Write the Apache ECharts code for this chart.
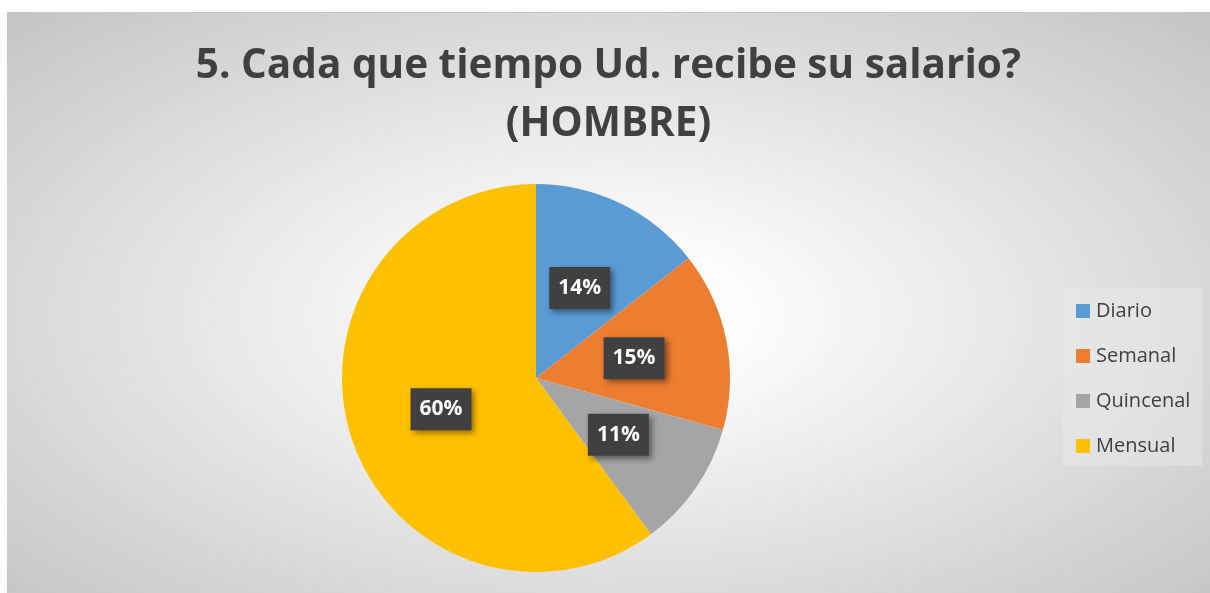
<!DOCTYPE html>
<html>
<head>
<meta charset="utf-8">
<script src="https://cdn.jsdelivr.net/npm/echarts@6/dist/echarts.min.js"></script>
<style>
    html, body { margin:0; padding:0; background:#ffffff; }
    #salario-chart {
        position:absolute; left:7px; top:12px; width:1203px; height:581px;
        border-top:1px solid #c8c8c8;
        box-sizing:border-box;
        background:radial-gradient(ellipse at 50% 52%, #ffffff 0%, #fdfdfd 15%, #c4c4c4 100%);
    }
</style>
</head>
<body>
<div id="salario-chart"></div>
<script>
var chartTitle = '5. Cada que tiempo Ud. recibe su salario?\n(HOMBRE)';
var categories = ['Diario', 'Semanal', 'Quincenal', 'Mensual'];
var percentages = [14.4, 14.9, 10.6, 60.1];
var sliceColors = ['#5b9bd5', '#ed7d31', '#a5a5a5', '#ffc000'];

var salarioChart = echarts.init(document.getElementById('salario-chart'));

var pieData = [];
for (var i = 0; i < categories.length; i++) {
    pieData.push({value: percentages[i], name: categories[i]});
}

var salarioChartOption = {
    animation: false,
    title: {
        text: chartTitle,
        left: 'center',
        top: 19,
        textStyle: {
            fontFamily: 'Open Sans',
            fontSize: 40.5,
            fontWeight: 'bold',
            color: '#404040',
            lineHeight: 58
        }
    },
    legend: {
        orient: 'vertical',
        left: 1056,
        top: 275,
        padding: [13, 12, 10, 13],
        backgroundColor: 'rgba(236,236,236,0.45)',
        icon: 'rect',
        itemWidth: 14,
        itemHeight: 14,
        itemGap: 25,
        data: categories,
        textStyle: {
            fontFamily: 'Open Sans',
            fontSize: 20,
            lineHeight: 20,
            color: '#404040',
            padding: [0, 0, 0, 1]
        }
    },
    color: sliceColors,
    series: [
        {
            name: 'Salario',
            type: 'pie',
            radius: [0, 194],
            center: [529, 365],
            startAngle: 90,
            clockwise: true,
            itemStyle: {borderWidth: 0},
            label: {
                show: true,
                position: 'inside',
                formatter: function (p) { return Math.round(p.percent) + '%'; },
                fontFamily: 'Open Sans',
                fontSize: 21,
                fontWeight: 'bold',
                lineHeight: 22,
                color: '#ffffff',
                backgroundColor: '#404040',
                padding: [10, 9],
                shadowColor: 'rgba(0,0,0,0.45)',
                shadowBlur: 6,
                shadowOffsetX: 3,
                shadowOffsetY: 3
            },
            labelLine: {show: false},
            emphasis: {disabled: true},
            data: pieData
        }
    ]
};

salarioChart.setOption(salarioChartOption);
</script>
</body>
</html>
